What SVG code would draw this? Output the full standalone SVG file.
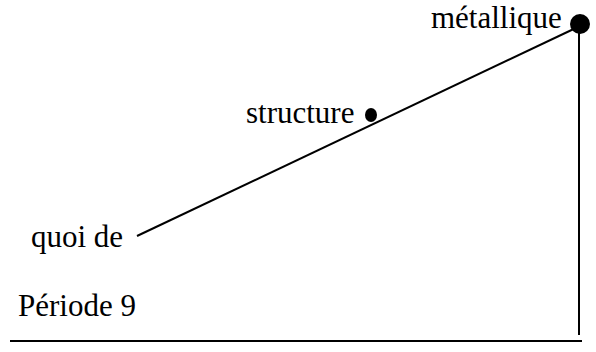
<svg xmlns="http://www.w3.org/2000/svg" width="596" height="352" viewBox="0 0 596 352">
<style>
text{font-family:"Liberation Serif","Times New Roman",serif;font-size:31px;fill:#000}
.ln{stroke:#000;stroke-width:2;fill:none}
.dot{fill:#000}
</style>
<rect width="596" height="352" fill="#fff"/>
<g id="connectors">
<line class="ln" x1="137" y1="236" x2="580" y2="26"/>
<line class="ln" x1="579" y1="26" x2="579" y2="335"/>
<line class="ln" x1="10" y1="341" x2="582" y2="341"/>
</g>
<g id="metallique"><circle class="dot" cx="580" cy="24" r="10"/><text x="431" y="28">métallique</text></g>
<g id="structure"><ellipse class="dot" cx="371" cy="115" rx="6" ry="7"/><text x="246" y="123">structure</text></g>
<g id="quoi"><text x="31" y="247">quoi de</text></g>
<g id="periode"><text x="18" y="316">Période 9</text></g>
</svg>
